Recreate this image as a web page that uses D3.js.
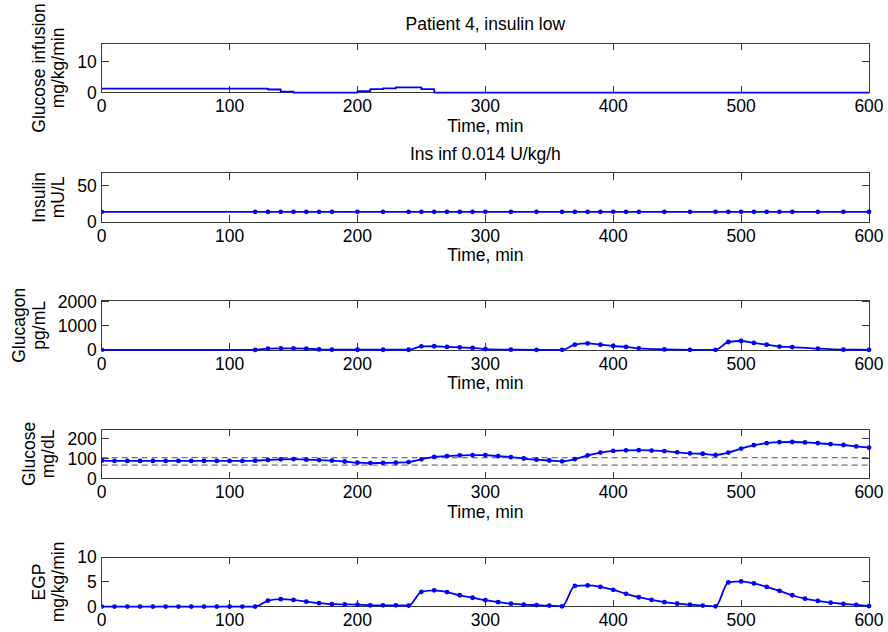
<!DOCTYPE html>
<html><head><meta charset="utf-8">
<script src="https://cdn.jsdelivr.net/npm/d3@7"></script>
<style>
html,body{margin:0;padding:0;background:#fff;}
svg{display:block;}
text{font-family:"Liberation Sans",Arial,Helvetica,sans-serif;font-size:17.5px;fill:#000;}
</style></head>
<body>
<svg id="chart" width="888" height="632"></svg>
<script>
// ---------- data ----------
const titles = ["Patient 4, insulin low", "Ins inf 0.014 U/kg/h", "", "", ""];
const yLabels = [["Glucose infusion","mg/kg/min"],["Insulin","mU/L"],["Glucagon","pg/mL"],["Glucose","mg/dL"],["EGP","mg/kg/min"]];
const xTicks = [0,100,200,300,400,500,600];
const yDomains = [[0,16],[0,68],[0,2030],[0,248],[0,10]];
const yTickVals = [[0,10],[0,50],[0,1000,2000],[0,100,200],[0,5,10]];
const xLabel = "Time, min";

// glucose infusion (step)
const infTimes = [0,130,140,150,200,210,220,230,250,260,600];
const infValues = [1.3,1.0,0.3,0,0.5,1.1,1.4,1.7,1.1,0,0];

// sparse sample times (insulin, glucagon)
const sampleTimes = [0,120,130,140,150,160,170,180,200,220,240,250,260,270,280,290,300,320,340,360,370,380,390,400,410,420,440,460,480,490,500,510,520,530,540,560,580,600];
const insulinValues = [14,14,14,14,14,14,14,14,14,14,14,14,14,14,14,14,14,14,14,14,14,14,14,14,14,14,14,14,14,14,14,14,14,14,14,14,14,14];
const glucagonValues = [5,5,60,65,65,60,25,15,10,10,10,150,155,125,110,85,40,15,8,8,220,272,220,165,125,70,25,8,8,330,370,290,220,140,120,55,15,8];

// dense times (glucose, EGP) every 10 min
const denseTimes = [0,10,20,30,40,50,60,70,80,90,100,110,120,130,140,150,160,170,180,190,200,210,220,230,240,250,260,270,280,290,300,310,320,330,340,350,360,370,380,390,400,410,420,430,440,450,460,470,480,490,500,510,520,530,540,550,560,570,580,590,600];
const glucoseValues = [90,89,89,89,89,89,89,89,89,89,89,89,90,94,97,98,95,93,90,86,80,78,79,80,83,97,109,113,117,118,118,113,108,101,95,91,87,98,117,131,139,142,143,141,138,132,127,125,119,131,151,168,178,183,184,182,178,173,169,162,156];
const glucoseBounds = [68,105];
const egpValues = [0,0,0,0,0,0,0,0,0,0,0,0,0,1.2,1.5,1.35,1.0,0.7,0.5,0.45,0.4,0.25,0.25,0.25,0.2,3.0,3.3,2.95,2.3,1.8,1.3,0.9,0.6,0.4,0.3,0.2,0.05,4.2,4.3,4.0,3.4,2.6,1.9,1.35,0.9,0.6,0.4,0.2,0.05,4.9,5.1,4.7,4.0,3.2,2.3,1.6,1.15,0.8,0.55,0.35,0.1];

// ---------- layout ----------
const svg = d3.select("#chart");
const xL = 101.7, xR = 869;
const tops = [43.3, 172.7, 300.7, 429.3, 557.3];
const ph = 49.3;
const blue = "#0000ff";
const tickLen = 7;

const x = d3.scaleLinear().domain([0,600]).range([xL,xR]);

function panel(i, series) {
  const top = tops[i], bot = top + ph;
  const y = d3.scaleLinear().domain(yDomains[i]).range([bot, top]);
  const g = svg.append("g");
  const cid = "clip"+i;
  svg.append("clipPath").attr("id",cid).append("rect").attr("x",xL).attr("y",top-3).attr("width",xR-xL+3).attr("height",ph+6);

  if (series.bounds) {
    series.bounds.forEach(b => {
      g.append("line").attr("x1",x(0)).attr("x2",x(600)).attr("y1",y(b)).attr("y2",y(b))
        .attr("stroke","#505050").attr("stroke-width",1).attr("stroke-dasharray","6,4");
    });
  }

  const ax = g.append("g").attr("stroke","#3a3a3a").attr("stroke-width",1).attr("shape-rendering","crispEdges");
  ax.append("rect").attr("x",xL).attr("y",top).attr("width",xR-xL).attr("height",ph).attr("fill","none");
  xTicks.forEach(t => {
    ax.append("line").attr("x1",x(t)).attr("x2",x(t)).attr("y1",bot).attr("y2",bot-tickLen);
    ax.append("line").attr("x1",x(t)).attr("x2",x(t)).attr("y1",top).attr("y2",top+tickLen);
  });
  yTickVals[i].forEach(v => {
    ax.append("line").attr("x1",xL).attr("x2",xL+tickLen).attr("y1",y(v)).attr("y2",y(v));
    ax.append("line").attr("x1",xR).attr("x2",xR-tickLen).attr("y1",y(v)).attr("y2",y(v));
  });

  xTicks.forEach(t => {
    g.append("text").attr("x",x(t)).attr("y",bot+19.5).attr("text-anchor","middle").text(t);
  });
  let minLeft = xL;
  yTickVals[i].forEach(v => {
    const tx = g.append("text").attr("x",xL-5).attr("y",y(v)).attr("dy","0.35em").attr("text-anchor","end").text(v);
    const w = tx.node().getComputedTextLength();
    minLeft = Math.min(minLeft, xL-5-w);
  });
  const cy = (top+bot)/2;
  const l2 = minLeft - 13, l1 = l2 - 19.5;
  g.append("text").attr("transform",`translate(${l1},${cy}) rotate(-90)`).attr("text-anchor","middle").text(yLabels[i][0]);
  g.append("text").attr("transform",`translate(${l2},${cy}) rotate(-90)`).attr("text-anchor","middle").text(yLabels[i][1]);
  if (i < 4) {
    g.append("text").attr("x",(xL+xR)/2).attr("y",bot+39).attr("text-anchor","middle").text(xLabel);
  }
  if (titles[i]) {
    g.append("text").attr("x",(xL+xR)/2).attr("y",top-13).attr("text-anchor","middle").text(titles[i]);
  }

  const data = series.t.map((t,k)=>({t, v: series.v[k]}));
  const line = d3.line().x(d=>x(d.t)).y(d=>y(d.v)).curve(series.curve);
  const dg = svg.append("g").attr("clip-path",`url(#${cid})`);
  dg.append("path").datum(data).attr("d",line).attr("fill","none").attr("stroke",blue).attr("stroke-width",1.8).attr("stroke-linejoin","round");
  if (series.markers) {
    dg.selectAll("circle").data(data).enter().append("circle")
      .attr("cx",d=>x(d.t)).attr("cy",d=>y(d.v)).attr("r",2.4).attr("fill",blue);
  }
}

panel(0, {t: infTimes, v: infValues, curve: d3.curveStepAfter, markers:false});
panel(1, {t: sampleTimes, v: insulinValues, curve: d3.curveLinear, markers:true});
panel(2, {t: sampleTimes, v: glucagonValues, curve: d3.curveMonotoneX, markers:true});
panel(3, {t: denseTimes, v: glucoseValues, curve: d3.curveMonotoneX, markers:true, bounds: glucoseBounds});
panel(4, {t: denseTimes, v: egpValues, curve: d3.curveMonotoneX, markers:true});
</script>
</body></html>
